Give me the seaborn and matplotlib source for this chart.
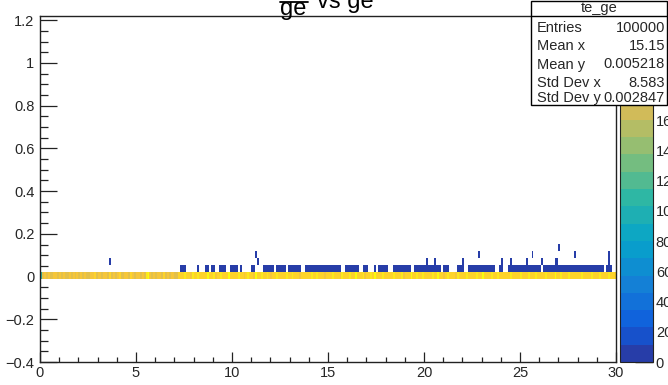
import numpy as np
import pandas as pd
import matplotlib
matplotlib.use("Agg")
import matplotlib.pyplot as plt
from matplotlib.colors import LinearSegmentedColormap, ListedColormap
from matplotlib.ticker import MultipleLocator, FuncFormatter
from matplotlib.patches import Rectangle
from matplotlib.lines import Line2D
import seaborn as sns

# ---------------- data ----------------
# counts of the main band (y bin around 0), one value per x bin of width 0.1
band_counts = [
    105, 180, 185, 178, 190, 182, 176, 188, 184, 179, 186, 181, 192, 177, 183, 189, 180, 185, 178, 191,
    183, 187, 179, 194, 182, 176, 188, 185, 198, 180, 184, 190, 178, 186, 193, 181, 200, 183, 188, 179,
    185, 196, 182, 178, 190, 187, 181, 199, 184, 176, 189, 193, 180, 186, 183, 214, 222, 188, 181, 185,
    179, 190, 184, 177, 195, 182, 186, 180, 188, 192, 183, 178, 200, 196, 205, 210, 198, 203, 194, 208,
    201, 197, 212, 204, 199, 206, 195, 220, 202, 198, 207, 193, 203, 199, 210, 196, 205, 200, 224, 202,
    197, 206, 199, 211, 195, 203, 185, 200, 208, 196, 202, 190, 223, 205, 199, 210, 201, 196, 207, 200,
    194, 204, 198, 209, 202, 196, 205, 199, 212, 201, 195, 207, 200, 203, 198, 188, 205, 200, 197, 206,
    199, 208, 195, 202, 210, 197, 204, 200, 193, 206, 201, 198, 211, 196, 205, 200, 190, 207, 199, 203,
    197, 209, 202, 195, 218, 200, 204, 198, 207, 192, 203, 199, 210, 196, 224, 201, 205, 198, 208, 200,
    195, 206, 201, 199, 211, 204, 197, 202, 209, 193, 205, 200, 198, 221, 203, 196, 207, 200, 204, 212,
    198, 205, 201, 196, 208, 200, 203, 222, 199, 206, 194, 202, 210, 197, 205, 200, 188, 207, 201, 196,
    204, 199, 211, 203, 197, 206, 200, 208, 195, 202, 219, 205, 199, 203, 196, 207, 201, 198, 210, 200,
    203, 197, 206, 201, 199, 209, 202, 196, 205, 200, 213, 198, 204, 201, 207, 195, 203, 200, 208, 197,
    205, 201, 199, 210, 203, 196, 206, 200, 223, 202, 198, 207, 201, 204, 197, 209, 200, 203, 199, 206,
    201, 198, 211, 204, 196, 205, 200, 207, 199, 202, 195, 208, 203, 200, 206, 198, 210, 201, 197, 204,
]

# occupied x bins (index of 0.1-wide bin) in the sparse rows above the band
row1_bins = ([73, 74, 75, 82, 86, 87, 89, 90, 93, 94, 95, 96, 99, 100, 101, 102, 104, 110, 111]
             + list(range(116, 122)) + list(range(123, 128)) + list(range(129, 136))
             + list(range(138, 157)) + list(range(159, 166)) + [168, 169, 170, 174]
             + list(range(176, 181)) + list(range(184, 193)) + list(range(195, 209))
             + [210, 211, 212, 217, 218, 219, 220] + list(range(223, 237)) + [239, 240]
             + list(range(244, 261)) + list(range(262, 294)) + [295, 296, 297])
row2_bins = [36, 113, 201, 205, 220, 240, 245, 253, 261, 268, 269, 296]
row3_bins = [112, 228, 256, 278, 296]
row4_bins = [270]
sparse_count = 2

stats_labels = ["Entries", "Mean x", "Mean y", "Std Dev x", "Std Dev y"]
stats_values = ["100000", "15.15", "0.005218", "8.583", "0.002847"]
stats_title = "te_ge"
cbar_ticks = [0, 20, 40, 60, 80, 100, 120, 140, 160]

# ---------------- binning ----------------
x_edges = np.linspace(0, 30, 301)
y_edges = np.linspace(-0.4, 1.22, 51)
y_centers = 0.5 * (y_edges[:-1] + y_edges[1:])
x_centers = 0.5 * (x_edges[:-1] + x_edges[1:])
band_row = 12

xs, ys, ws = [], [], []
for i, c in enumerate(band_counts):
    xs.append(x_centers[i]); ys.append(y_centers[band_row]); ws.append(c)
for k, rows in enumerate([row1_bins, row2_bins, row3_bins, row4_bins], start=1):
    for b in rows:
        xs.append(x_centers[b]); ys.append(y_centers[band_row + k]); ws.append(sparse_count)
df = pd.DataFrame({"x": xs, "y": ys, "w": ws})

# ---------------- ROOT kBird palette, 20 contours ----------------
red = [0.2082, 0.0592, 0.0780, 0.0232, 0.1802, 0.5301, 0.8186, 0.9956, 0.9764]
green = [0.1664, 0.3599, 0.5041, 0.6419, 0.7178, 0.7492, 0.7328, 0.7862, 0.9832]
blue = [0.5293, 0.8684, 0.8385, 0.7914, 0.6425, 0.4662, 0.3499, 0.1968, 0.0539]
stops = np.linspace(0, 1, 9)
bird = LinearSegmentedColormap.from_list("bird", list(zip(stops, zip(red, green, blue))), N=255)
ncont = 20
level_cols = [bird(int((i + 0.99) * 255 / ncont) / 254.0) for i in range(ncont)]
cmap = ListedColormap(level_cols)
zmax = 229

# ---------------- figure ----------------
sns.set_style("white")
plt.rcParams["font.family"] = ["Liberation Sans", "DejaVu Sans"]
plt.rcParams["axes.unicode_minus"] = True

W, H = 668, 385
fig = plt.figure(figsize=(W / 100, H / 100), dpi=100)
fig.patch.set_facecolor("white")

def fx(px):
    return px / W

def fy(py):
    return 1 - py / H

ax = fig.add_axes([fx(40), fy(362), fx(616) - fx(40), fy(16) - fy(362)])
cax = fig.add_axes([fx(620), fy(362), fx(653) - fx(620), fy(16) - fy(362)])

sns.histplot(data=df, x="x", y="y", weights="w", bins=[x_edges, y_edges],
             cmap=cmap, vmin=0, vmax=zmax, cbar=True, cbar_ax=cax, ax=ax)

ax.set_xlim(0, 30)
ax.set_ylim(-0.4, 1.22)
ax.set_xlabel("")
ax.set_ylabel("")
ax.set_facecolor("white")

ax.xaxis.set_major_locator(MultipleLocator(5))
ax.xaxis.set_minor_locator(MultipleLocator(1))
ax.yaxis.set_major_locator(MultipleLocator(0.2))
ax.yaxis.set_minor_locator(MultipleLocator(0.05))

def fmt(v, pos):
    s = "%g" % round(v, 6)
    return s.replace("-", "\u2212")

ax.yaxis.set_major_formatter(FuncFormatter(fmt))
ax.xaxis.set_major_formatter(FuncFormatter(fmt))

tc = "#222222"
ax.tick_params(axis="y", which="major", direction="in", length=12.2, width=0.9, color=tc,
               labelsize=10.5, pad=4, left=True, right=False)
ax.tick_params(axis="y", which="minor", direction="in", length=6.1, width=0.9, color=tc,
               left=True, right=False)
ax.tick_params(axis="x", which="major", direction="in", length=7.5, width=0.9, color=tc,
               labelsize=10.5, pad=3, bottom=True, top=False)
ax.tick_params(axis="x", which="minor", direction="in", length=3.7, width=0.9, color=tc,
               bottom=True, top=False)
for sp in ax.spines.values():
    sp.set_visible(True)
    sp.set_color(tc)
    sp.set_linewidth(1.0)

# colorbar styling
cax.yaxis.set_major_locator(matplotlib.ticker.FixedLocator(cbar_ticks))
cax.yaxis.set_minor_locator(matplotlib.ticker.NullLocator())
cax.yaxis.set_major_formatter(FuncFormatter(lambda v, p: "%d" % v))
cax.tick_params(axis="y", which="major", direction="in", length=13, width=1.0, color="black",
                labelsize=10.5, pad=2, right=True, left=False)
for sp in cax.spines.values():
    sp.set_linewidth(0.8)
    sp.set_color("#222222")

# title: fraction te/ge followed by "vs ge" (numerator above the visible area)
fig.text(fx(280), fy(15), "ge", fontsize=17, va="baseline", ha="left", color="black")
fig.text(fx(317), fy(8), "vs ge", fontsize=17, va="baseline", ha="left", color="black")
fig.add_artist(Line2D([fx(280), fx(308)], [fy(1.5), fy(1.5)], color="black", lw=1.3,
                      transform=fig.transFigure))

# stats box
box = Rectangle((fx(531), fy(105)), fx(667) - fx(531), fy(1) - fy(105), transform=fig.transFigure,
                facecolor="white", edgecolor="black", lw=1.0, zorder=5)
fig.add_artist(box)
fig.add_artist(Line2D([fx(531), fx(667)], [fy(15.5), fy(15.5)], color="black", lw=1.0,
                      transform=fig.transFigure, zorder=6))
fig.text(fx(599), fy(8), stats_title, fontsize=10.5, ha="center", va="center", zorder=7)
row_y = [27.5, 46, 64.5, 83, 98]
for lab, val, ry in zip(stats_labels, stats_values, row_y):
    fig.text(fx(537), fy(ry), lab, fontsize=10.5, ha="left", va="center", zorder=7)
    fig.text(fx(665), fy(ry), val, fontsize=10.5, ha="right", va="center", zorder=7)

fig.savefig("out.png", dpi=100)
